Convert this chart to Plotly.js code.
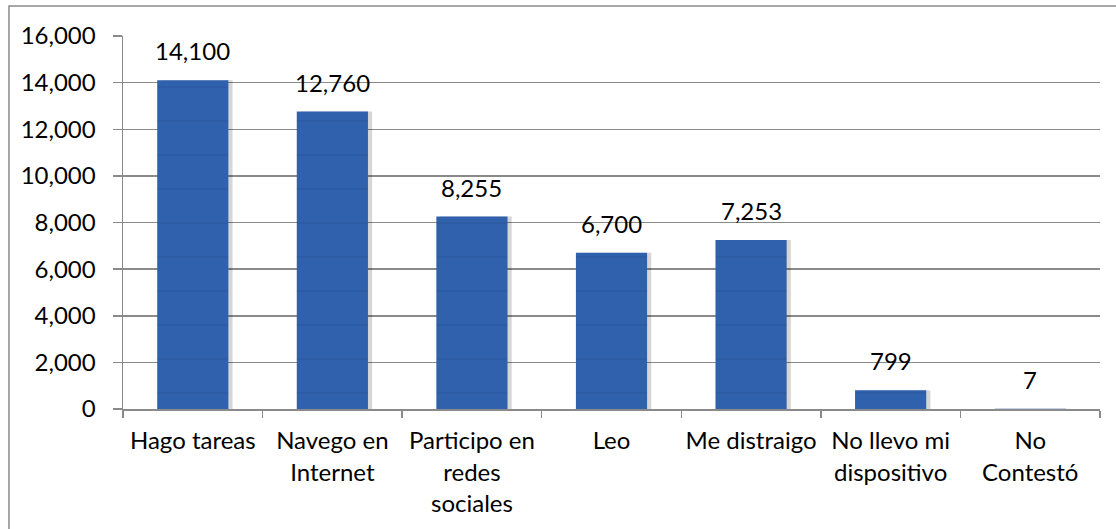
<!DOCTYPE html>
<html>
<head>
<meta charset="utf-8">
<script src="https://cdn.plot.ly/plotly-3.0.1.min.js"></script>
<style>
  html, body { margin: 0; padding: 0; background: #fff; }
  #chart { width: 1116px; height: 529px; }
</style>
</head>
<body>
<div id="chart"></div>
<script>
// categories and values
const categories = [
  'Hago tareas',
  'Navego en<br>Internet',
  'Participo en<br>redes<br>sociales',
  'Leo',
  'Me distraigo',
  'No llevo mi<br>dispositivo',
  'No<br>Contestó'
];
const values = [14100, 12760, 8255, 6700, 7253, 799, 7];
const yTicks = [0, 2000, 4000, 6000, 8000, 10000, 12000, 14000, 16000];

const font = 'Lato, "Open Sans", sans-serif';
const fontSize = 24;
const barWidth = 0.51;
const blue = '#3061ad';

// soft drop shadow behind each bar
const shadow = {
  type: 'bar',
  x: categories,
  y: values,
  width: barWidth,
  offset: -barWidth / 2 + 0.03,
  marker: { color: 'rgba(0,0,0,0.16)', line: { width: 0 } },
  hoverinfo: 'skip',
  showlegend: false
};

const bars = {
  type: 'bar',
  x: categories,
  y: values,
  width: barWidth,
  offset: -barWidth / 2,
  marker: {
    color: blue,
    line: { width: 0 },
    pattern: { shape: '-', bgcolor: blue, fgcolor: '#1f4a88', fgopacity: 0.3, size: 34, solidity: 0.05 }
  },
  showlegend: false
};

// value labels above the bars
const labels = categories.map((c, i) => ({
  x: c,
  y: values[i],
  text: values[i].toLocaleString('en-US'),
  showarrow: false,
  yanchor: 'bottom',
  yshift: 13,
  font: { family: font, size: fontSize, color: '#000' }
}));

const layout = {
  width: 1116,
  height: 529,
  margin: { l: 123, r: 16, t: 36, b: 120 },
  paper_bgcolor: '#fff',
  plot_bgcolor: '#fff',
  barmode: 'overlay',
  font: { family: font, size: fontSize, color: '#000' },
  xaxis: {
    type: 'category',
    showgrid: false,
    showline: true,
    linecolor: '#8a8a8a',
    linewidth: 1.5,
    ticks: 'outside',
    tickson: 'boundaries',
    ticklen: 7,
    tickcolor: '#8a8a8a',
    tickwidth: 1.5,
    tickangle: 0,
    ticklabelstandoff: 10,
    tickfont: { family: font, size: fontSize, color: '#000' },
    fixedrange: true
  },
  yaxis: {
    range: [0, 16000],
    tickvals: yTicks,
    ticktext: yTicks.map(v => v.toLocaleString('en-US')),
    showgrid: true,
    gridcolor: '#8a8a8a',
    gridwidth: 1.5,
    zeroline: false,
    showline: true,
    linecolor: '#8a8a8a',
    linewidth: 1.5,
    ticks: 'outside',
    ticklen: 9,
    tickcolor: '#8a8a8a',
    tickwidth: 1.5,
    ticklabelstandoff: 12,
    tickfont: { family: font, size: fontSize, color: '#000' },
    fixedrange: true
  },
  annotations: labels,
  shapes: [{
    // outer chart border, runs off the right and bottom edges
    type: 'rect',
    xref: 'paper', yref: 'paper',
    x0: -0.1167, x1: 1.05,
    y0: -0.4, y1: 1.0804,
    line: { color: '#8a8a8a', width: 1.5 },
    fillcolor: 'rgba(0,0,0,0)',
    layer: 'below'
  }]
};

Plotly.newPlot('chart', [shadow, bars], layout, { displayModeBar: false, staticPlot: true });
</script>
</body>
</html>
